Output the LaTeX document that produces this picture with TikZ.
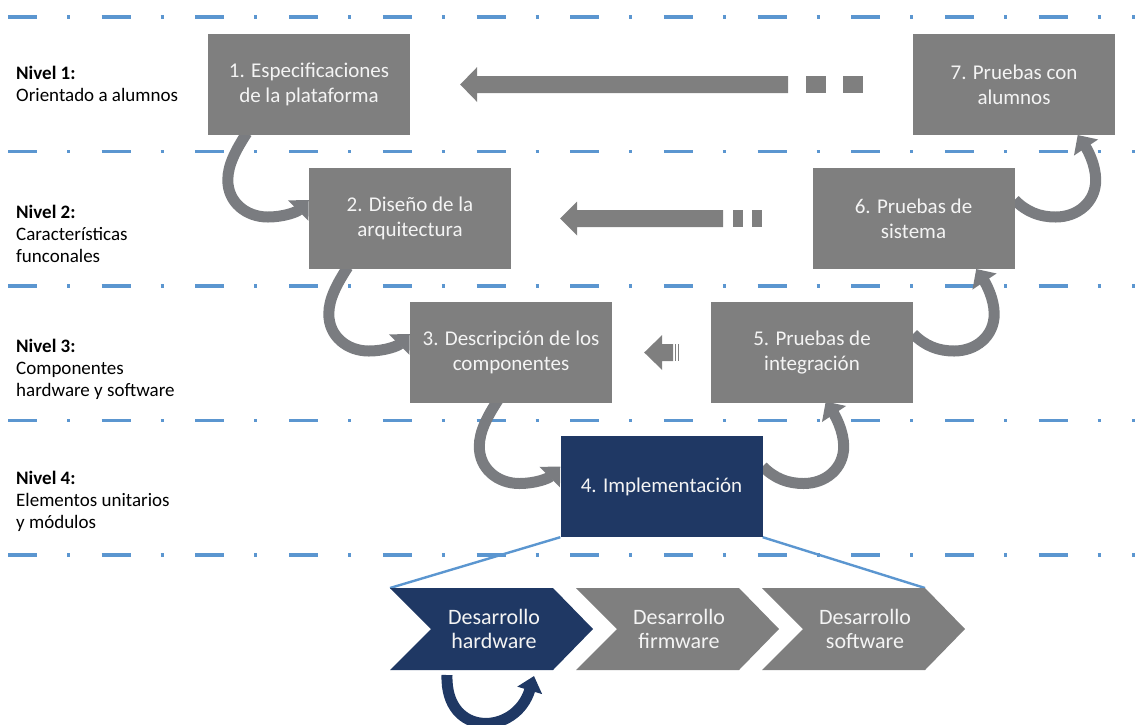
\documentclass[tikz,border=0pt]{standalone}
\usepackage{fontspec}
\setmainfont{Carlito}
\usetikzlibrary{calc,arrows.meta}
\definecolor{boxgrey}{RGB}{127,127,127}
\definecolor{arrowgrey}{RGB}{122,124,128}
\definecolor{navy}{RGB}{31,56,100}
\definecolor{lineblue}{RGB}{91,150,208}
\definecolor{txtwhite}{RGB}{244,244,244}
\pgfdeclarelayer{bg}
\pgfsetlayers{bg,main}
\begin{document}
\begin{tikzpicture}[x=1pt,y=-1pt,
  levelline/.style={draw=lineblue, line width=3.2pt, dash pattern=on 29pt off 30pt on 3pt off 31.7pt},
  stage/.style={fill=boxgrey, text=txtwhite, minimum width=202pt, minimum height=101pt, inner sep=0pt, align=center, font=\fontsize{21}{25}\selectfont},
  lbl/.style={anchor=west, align=left, inner sep=0pt, font=\fontsize{19}{22}\selectfont},
  carrow/.style={draw=arrowgrey, line width=11pt, -{Triangle[width=28pt,length=15pt]}},
  blockarrow/.style={fill=boxgrey},
  zoomline/.style={draw=lineblue, line width=2.4pt},
  chevtext/.style={text=txtwhite, align=center, inner sep=0pt, font=\fontsize{22}{24}\selectfont}]

\useasboundingbox (0,0) rectangle (1135,724);

% level labels
\node[lbl] (n1) at (16,83.5) {\textbf{Nivel 1:}\\Orientado a alumnos};
\node[lbl] (n2) at (16,233.5) {\textbf{Nivel 2:}\\Características\\funconales};
\node[lbl] (n3) at (16,369) {\textbf{Nivel 3:}\\Componentes\\hardware y software};
\node[lbl] (n4) at (16,501.5) {\textbf{Nivel 4:}\\Elementos unitarios\\y módulos};

% stage boxes
\node[stage] (b1) at (309,84.5) {1. Especificaciones\\de la plataforma};
\node[stage] (b2) at (410,218.5) {2. Diseño de la\\arquitectura};
\node[stage] (b3) at (511,352.5) {3. Descripción de los\\componentes};
\node[stage, fill=navy] (b4) at (661.5,486.5) {4. Implementación};
\node[stage] (b5) at (812,352.5) {5. Pruebas de\\integración};
\node[stage] (b6) at (913.5,218.5) {6. Pruebas de\\sistema};
\node[stage] (b7) at (1014,84.5) {7. Pruebas con\\alumnos};

% chevrons
\coordinate (c1tl) at (390,588);
\coordinate (c2tl) at (576,588);
\coordinate (c3tl) at (762,588);
\coordinate (c3tr) at ($(c3tl)+(163,0)$);
\fill[navy] (c1tl) -- ++(163,0) -- ++(40,41) -- ++(-40,41) -- ++(-163,0) -- ++(41,-41) -- cycle;
\fill[boxgrey] (c2tl) -- ++(163,0) -- ++(40,41) -- ++(-40,41) -- ++(-163,0) -- ++(41,-41) -- cycle;
\fill[boxgrey] (c3tl) -- ++(163,0) -- ++(40,41) -- ++(-40,41) -- ++(-163,0) -- ++(41,-41) -- cycle;
\node[chevtext] (ch1) at (494,629) {Desarrollo\\hardware};
\node[chevtext] (ch2) at (679,629) {Desarrollo\\firmware};
\node[chevtext] (ch3) at (865,629) {Desarrollo\\software};

% straight block arrows (right to left)
\coordinate (tip71) at ($(b1.east)+(50,0)$);
\fill[blockarrow] (tip71) -- ++(17,-17.5) -- ++(0,9) -- ++(311,0) -- ++(0,17) -- ++(-311,0) -- ++(0,9) -- cycle;
\fill[blockarrow] ($(tip71)+(346,-8.5)$) rectangle ++(20,17);
\fill[blockarrow] ($(tip71)+(383,-8.5)$) rectangle ++(20,17);

\coordinate (tip62) at ($(b2.east)+(49,0)$);
\fill[blockarrow] (tip62) -- ++(17,-17) -- ++(0,8.5) -- ++(146,0) -- ++(0,17) -- ++(-146,0) -- ++(0,8.5) -- cycle;
\fill[blockarrow] ($(tip62)+(173,-8.5)$) rectangle ++(10,17);
\fill[blockarrow] ($(tip62)+(192,-8.5)$) rectangle ++(10,17);

\coordinate (tip53) at ($(b3.east)+(32,0)$);
\fill[blockarrow] (tip53) -- ++(18,-17.5) -- ++(0,9) -- ++(11,0) -- ++(0,17) -- ++(-11,0) -- ++(0,9) -- cycle;
\fill[blockarrow] ($(tip53)+(30.5,-8.5)$) rectangle ++(1.5,17);
\fill[blockarrow] ($(tip53)+(33.5,-8.5)$) rectangle ++(1.5,17);

% curved arrow anchors
\coordinate (t12) at ($(b2.west)+(0,-18.5)$);
\coordinate (t23) at ($(b3.west)+(0,-18.5)$);
\coordinate (t34) at ($(b4.west)+(0,-20)$);
\coordinate (s45) at ($(b4.east)+(0,-20)$);
\coordinate (s56) at ($(b5.east)+(0,-18.5)$);
\coordinate (s67) at ($(b6.east)+(0,-18.5)$);
\coordinate (hwA) at ($(ch1)+(-47,46)$);
\coordinate (hwB) at ($(ch1)+(40,47)$);

\begin{pgfonlayer}{bg}
  \foreach \yy in {17,151.5,286,420.5,555}
    \draw[levelline] (8,\yy) -- (1140,\yy);
  \draw[zoomline] (b4.south west) -- (c1tl);
  \draw[zoomline] (b4.south east) -- (c3tr);
  \foreach \t in {t12,t23,t34}
    \draw[carrow] ($(\t)+(-62,-67)$)
      .. controls ($(\t)+(-73,-50)$) and ($(\t)+(-81,-35)$) .. ($(\t)+(-81,-20)$)
      .. controls ($(\t)+(-81,2)$) and ($(\t)+(-63,17)$) .. ($(\t)+(-41,17)$)
      .. controls ($(\t)+(-25,17)$) and ($(\t)+(-12,12)$) .. (\t);
  \foreach \s in {s45,s56,s67}
    \draw[carrow] (\s)
      .. controls ($(\s)+(12,12)$) and ($(\s)+(25,17)$) .. ($(\s)+(41,17)$)
      .. controls ($(\s)+(63,17)$) and ($(\s)+(81,2)$) .. ($(\s)+(81,-20)$)
      .. controls ($(\s)+(81,-35)$) and ($(\s)+(73,-50)$) .. ($(\s)+(63,-65)$);
  \draw[carrow, draw=navy, -{Triangle[width=25pt,length=15pt]}] (hwA) .. controls ($(hwA)+(-2,63)$) and ($(hwB)+(-18,60)$) .. (hwB);
\end{pgfonlayer}
\end{tikzpicture}
\end{document}
